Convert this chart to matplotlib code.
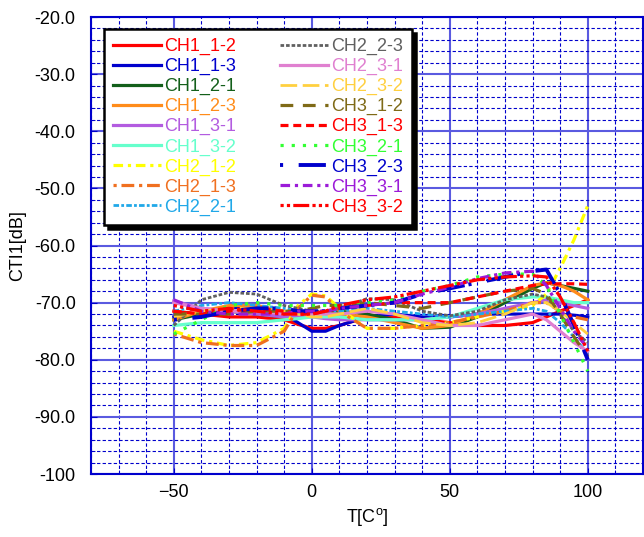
import matplotlib
matplotlib.use("Agg")
import matplotlib.pyplot as plt
from matplotlib.ticker import MultipleLocator, FixedLocator, FixedFormatter

plt.rcParams["font.family"] = ["Liberation Sans", "DejaVu Sans"]
plt.rcParams["mathtext.fontset"] = "custom"
plt.rcParams["mathtext.rm"] = "Liberation Sans"
plt.rcParams["mathtext.it"] = "Liberation Sans"

# temperature points (C)
temps = [-50, -40, -30, -20, -10, -5, 0, 5, 10, 20, 30, 40, 50, 60, 70, 80, 85, 90, 95, 100]

# crosstalk values (dB)
ch1_12 = [-71.5, -72, -72.5, -72.5, -73, -73.8, -74.5, -74.5, -74, -72.5, -72.5, -73, -73.5, -74, -74, -73.5, -72.5, -71.5, -70.5, -69.5]
ch1_13 = [-72.5, -72, -71, -70.5, -72, -73.5, -75, -75, -74, -72.5, -72, -72.5, -72.5, -72, -72, -72, -72, -72, -72.2, -72.5]
ch1_21 = [-73, -72, -71.5, -72, -72.5, -72.3, -72, -71.8, -71.5, -72, -73, -74.5, -74.3, -72.5, -70, -67.5, -66.5, -67, -67.5, -68]
ch1_23 = [-73, -71.5, -70.5, -70.5, -71.5, -72, -72, -72, -72, -72.5, -73.5, -74.5, -74, -72, -69.5, -67, -66.5, -67, -68, -69.5]
ch1_31 = [-69.7, -71, -71.5, -72, -72.5, -72.5, -72.5, -72.8, -73, -73, -73, -73, -72.5, -72, -71, -70, -69.5, -70, -70.5, -71]
ch1_32 = [-74, -73.5, -73.5, -73.5, -73, -72.8, -72.5, -72.5, -72.5, -73, -73, -73, -72.5, -71, -69.5, -69, -69, -69.5, -70, -70]
ch2_12 = [-75, -76.5, -77.5, -77, -74.5, -70.5, -68.5, -68.8, -71, -74.5, -74.5, -74, -73.5, -72.5, -71.5, -70.5, -68.5, -64, -59, -53]
ch2_13 = [-75.5, -77, -77.5, -77.5, -75, -71, -68.7, -69, -71.5, -74.5, -74.5, -74, -73.5, -72.5, -71.5, -70, -70, -71.5, -72.5, -73]
ch2_21 = [-71.5, -70.5, -70, -70.5, -71, -71.5, -71.5, -71.5, -71.5, -71, -71.5, -72, -72.5, -72, -71.5, -71, -71.5, -73.5, -76, -79]
ch2_23 = [-74, -69.5, -68.2, -68.5, -70.5, -71, -71.5, -71.5, -71, -69.3, -69.5, -71.5, -72.3, -71.5, -69.5, -68.5, -69, -72, -75, -77]
ch2_31 = [-70, -71, -71.5, -71.5, -72, -72, -72, -72, -72, -71.5, -72, -73, -74, -74, -73, -72, -73, -75, -77, -78.5]
ch2_32 = [-72.5, -71.5, -71, -71, -71.5, -72, -72.5, -72.5, -72, -71, -72, -73.5, -74, -73.5, -72, -70, -70, -71.5, -73.5, -75.5]
ch3_12 = [-72, -72, -72, -71.5, -71.5, -71.5, -71, -70.5, -70.5, -70, -70.5, -71, -70, -69, -68, -67.5, -68.5, -72, -76, -79.5]
ch3_13 = [-71.5, -72, -71.5, -71, -71.5, -72, -72, -71.5, -71, -70.5, -70, -70, -70, -69, -68, -67, -66.7, -66.7, -66.7, -66.8]
ch3_21 = [-75.5, -73, -70.5, -70, -70.5, -70.5, -70.5, -70.5, -70.5, -70, -69.5, -68, -67, -65.5, -65, -65, -67, -72, -77, -82]
ch3_23 = [-73, -72.5, -71.5, -71, -71, -71.5, -71.5, -71.5, -71, -70.5, -70, -68.5, -67.5, -66.5, -65.5, -64.5, -64.2, -68.5, -74, -80]
ch3_31 = [-69.5, -71.5, -72, -72, -72, -71.5, -71.5, -71.5, -71, -70.5, -70, -68.5, -67.3, -65.8, -64.8, -64.5, -67, -71, -75, -78]
ch3_32 = [-70.5, -71.5, -71, -71.5, -72, -72, -72, -71.5, -70.5, -69.5, -69, -68, -67, -66, -65.5, -65.3, -65.5, -69, -73.5, -78.5]

labels = ["CH1_1-2", "CH1_1-3", "CH1_2-1", "CH1_2-3", "CH1_3-1", "CH1_3-2",
          "CH2_1-2", "CH2_1-3", "CH2_2-1", "CH2_2-3", "CH2_3-1", "CH2_3-2",
          "CH3_1-2", "CH3_1-3", "CH3_2-1", "CH3_2-3", "CH3_3-1", "CH3_3-2"]
series = [ch1_12, ch1_13, ch1_21, ch1_23, ch1_31, ch1_32,
          ch2_12, ch2_13, ch2_21, ch2_23, ch2_31, ch2_32,
          ch3_12, ch3_13, ch3_21, ch3_23, ch3_31, ch3_32]

y_ticks = [-20, -30, -40, -50, -60, -70, -80, -90, -100]
y_tick_labels = ["-20.0", "-30.0", "-40.0", "-50.0", "-60.0", "-70.0", "-80.0", "-90.0", "-100"]

colors = ["#ff0000", "#0000cc", "#135f1a", "#ff8c1a", "#b35ce0", "#66ffcc",
          "#ffff00", "#f07020", "#20a8e8", "#606060", "#e080d0", "#ffd040",
          "#7f6a17", "#ff0000", "#33ff33", "#0000cc", "#9b1bd8", "#ff0000"]
styles = ["-", "-", "-", "-", "-", "-",
          (0, (3, 1.5, 1, 1.5)), (0, (1, 1.5, 4, 1.5)), (0, (2, 0.8, 1, 0.8)),
          (0, (1.3, 0.7)), "-", (0, (6, 2)),
          (0, (4, 3)), (0, (2.5, 1.5)), (0, (1, 2.5)),
          (0, (0.8, 4, 7, 1)), (0, (3, 1.5, 1, 1.5)), (0, (1, 1, 1, 1, 5, 1))]
widths = [2.3] * 6 + [2.3, 2.3, 2.0, 2.0, 2.3, 2.0, 2.3, 2.3, 2.3, 2.8, 2.3, 2.3]

fig = plt.figure(figsize=(6.44, 5.37), dpi=100)
ax = fig.add_axes([0.1413, 0.1173, 0.8571, 0.8510])

for vals, lab, c, ls, lw in zip(series, labels, colors, styles, widths):
    ax.plot(temps, vals, color=c, linestyle=ls, linewidth=lw, label=lab)

ax.set_xlim(-80, 120)
ax.set_ylim(-100, -20)
ax.xaxis.set_major_locator(FixedLocator([-50, 0, 50, 100]))
ax.xaxis.set_minor_locator(MultipleLocator(10))
ax.yaxis.set_major_locator(FixedLocator(y_ticks))
ax.yaxis.set_major_formatter(FixedFormatter(y_tick_labels))
ax.yaxis.set_minor_locator(MultipleLocator(2))

ax.grid(which="major", color="#5a5ae0", linewidth=1.5, linestyle="-")
ax.grid(which="minor", color="#0000cc", linewidth=0.8, linestyle=(0, (3, 2)))
ax.set_axisbelow(True)

for s in ax.spines.values():
    s.set_color("#0000cc")
    s.set_linewidth(1.5)
ax.tick_params(axis="both", which="both", direction="in", colors="#0000cc",
               labelcolor="black", labelsize=13)
ax.tick_params(axis="y", which="major", length=4, pad=11)
ax.tick_params(axis="y", which="minor", length=3)
ax.tick_params(axis="x", which="major", length=4, pad=7)
ax.tick_params(axis="x", which="minor", length=3)

ax.set_xlabel("T[C$^{\\mathrm{o}}$]", fontsize=13, labelpad=4)
ax.set_ylabel("CTI1[dB]", fontsize=13, labelpad=6)

leg = ax.legend(ncol=2, loc="upper left", bbox_to_anchor=(0.0236, 0.974),
                borderaxespad=0, fontsize=13, frameon=True, fancybox=False,
                framealpha=1, edgecolor="black", handlelength=2.65,
                handletextpad=0.2, columnspacing=2.4, labelspacing=0.16,
                borderpad=0.5,
                shadow={"ox": 3, "oy": -3, "color": "black", "alpha": 1})
leg.get_frame().set_linewidth(1.8)
for txt, c in zip(leg.get_texts(), colors):
    txt.set_color(c)

fig.savefig("out.png", dpi=100)
